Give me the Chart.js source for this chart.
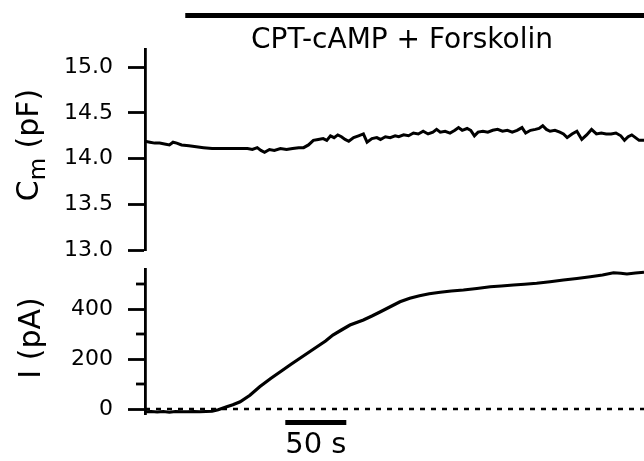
<!DOCTYPE html>
<html>
<head>
<meta charset="utf-8">
<script src="https://cdn.jsdelivr.net/npm/chart.js@4/dist/chart.umd.min.js"></script>
<style>
  html, body { margin: 0; padding: 0; background: #fff; }
  #wrap { position: relative; width: 644px; height: 461px; overflow: hidden; }
  canvas { position: absolute; left: 0; }
</style>
</head>
<body>
<div id="wrap">
  <canvas id="top" width="644" height="260" style="top:0"></canvas>
  <canvas id="bottom" width="644" height="201" style="top:260px"></canvas>
</div>
<script>
// ---------- data ----------
const cmTime = [0,4,8,12,16,20,23,26,30,36,42,48,55,62,70,78,84,88,92,95,98,102,106,111,116,121,126,130,134,138,142,146,149,152,155,158,161,164,167,171,175,179,182,186,190,193,197,201,205,208,212,216,220,224,228,232,236,239,242,246,250,254,257,260,264,267,270,273,277,281,285,289,293,297,301,305,309,312,316,320,323,326,329,332,336,340,343,346,350,354,358,362,366,370,374,378,382,386,390,393,396,399,402,405,409];
const cmValues = [14.19,14.18,14.17,14.17,14.16,14.15,14.18,14.17,14.15,14.14,14.13,14.12,14.11,14.11,14.11,14.11,14.11,14.10,14.12,14.09,14.07,14.10,14.09,14.11,14.10,14.11,14.12,14.12,14.15,14.20,14.21,14.22,14.20,14.25,14.23,14.26,14.24,14.21,14.19,14.23,14.25,14.27,14.18,14.22,14.23,14.21,14.24,14.23,14.25,14.24,14.26,14.25,14.28,14.27,14.30,14.27,14.29,14.32,14.29,14.30,14.28,14.31,14.34,14.31,14.33,14.31,14.25,14.29,14.30,14.29,14.31,14.32,14.30,14.31,14.29,14.31,14.34,14.28,14.31,14.32,14.33,14.36,14.32,14.30,14.31,14.29,14.27,14.23,14.27,14.30,14.21,14.26,14.32,14.27,14.28,14.27,14.27,14.28,14.25,14.20,14.24,14.26,14.23,14.20,14.20];

const iTime = [0,5,10,15,20,25,30,35,40,45,50,55,60,67,72,78,86,94,103,113,120,127,134,141,148,154,161,168,179,186,193,201,209,217,225,233,242,251,261,272,283,292,302,311,321,332,343,354,365,375,384,390,395,402,409];
const iValues = [-11,-10,-12,-10,-13,-10,-11,-11,-10,-11,-10,-9,-3,9,17,29,55,89,122,156,180,203,226,249,272,296,316,336,356,372,389,409,429,443,453,461,467,472,476,482,489,492,496,499,503,509,516,522,529,536,545,543,540,544,547];

const zeroTime = [0, 409];
const zeroValues = [0, 0];

const cmTicks = [13.0, 13.5, 14.0, 14.5, 15.0];
const iTicks = [0, 200, 400];
const iMinorTicks = [100, 300, 500];

const drugLabel = 'CPT-cAMP + Forskolin';
const drugStart = 33, drugEnd = 409;
const scaleBarStart = 115, scaleBarLength = 50, scaleBarLabel = '50 s';

// ---------- style ----------
const FONT = "'DejaVu Sans', 'Liberation Sans', Arial, sans-serif";
Chart.defaults.font.family = FONT;
Chart.defaults.color = '#000';

function pts(xs, ys) { return xs.map((x, i) => ({ x: x, y: ys[i] })); }

function yAxis(min, max, ticks, fmt) {
  return {
    type: 'linear', min: min, max: max,
    afterBuildTicks: s => { s.ticks = ticks.map(v => ({ value: v })); },
    afterFit: s => { s.width = 145; s.paddingTop = 0; s.paddingBottom = 0; },
    ticks: { callback: fmt, font: { family: FONT, size: 22 }, color: '#000', padding: 15 },
    grid: { drawOnChartArea: false, drawTicks: true, tickLength: 17, tickWidth: 2.8, tickColor: '#000', color: '#000' },
    border: { display: true, color: '#000', width: 2.8 }
  };
}

function drawRotatedTitle(ctx, parts, cy, baseX) {
  ctx.save();
  let total = 0;
  parts.forEach(p => { ctx.font = p.size + 'px ' + FONT; p.w = ctx.measureText(p.text).width; total += p.w; });
  ctx.translate(baseX, cy);
  ctx.rotate(-Math.PI / 2);
  ctx.fillStyle = '#000';
  ctx.textBaseline = 'alphabetic';
  ctx.textAlign = 'left';
  let x = -total / 2;
  parts.forEach(p => {
    ctx.font = p.size + 'px ' + FONT;
    ctx.fillText(p.text, x, p.shift);
    x += p.w;
  });
  ctx.restore();
}

const topDecor = {
  id: 'topDecor',
  afterDraw(chart) {
    const ctx = chart.ctx, xs = chart.scales.x;
    const x0 = xs.getPixelForValue(drugStart), x1 = xs.getPixelForValue(drugEnd);
    ctx.save();
    ctx.fillStyle = '#000';
    ctx.fillRect(x0, 13, x1 - x0 + 2, 5);
    ctx.font = '28px ' + FONT;
    ctx.textAlign = 'center';
    ctx.textBaseline = 'alphabetic';
    ctx.fillText(drugLabel, 402, 48);
    ctx.restore();
    drawRotatedTitle(ctx, [
      { text: 'C', size: 30, shift: 0 },
      { text: 'm', size: 23, shift: 7 },
      { text: ' (pF)', size: 30, shift: 0 }
    ], 145, 38);
  }
};

const bottomDecor = {
  id: 'bottomDecor',
  afterDraw(chart) {
    const ctx = chart.ctx, xs = chart.scales.x, ys = chart.scales.y;
    const axisX = chart.chartArea.left;
    ctx.save();
    ctx.strokeStyle = '#000';
    ctx.lineWidth = 2.8;
    iMinorTicks.forEach(v => {
      const y = Math.round(ys.getPixelForValue(v));
      ctx.beginPath();
      ctx.moveTo(axisX - 9, y);
      ctx.lineTo(axisX, y);
      ctx.stroke();
    });
    const b0 = xs.getPixelForValue(scaleBarStart), b1 = xs.getPixelForValue(scaleBarStart + scaleBarLength);
    ctx.fillStyle = '#000';
    ctx.fillRect(b0, 160, b1 - b0, 5);
    ctx.font = '29px ' + FONT;
    ctx.textAlign = 'center';
    ctx.textBaseline = 'alphabetic';
    ctx.fillText(scaleBarLabel, (b0 + b1) / 2, 193);
    ctx.restore();
    drawRotatedTitle(ctx, [{ text: 'I (pA)', size: 30, shift: 0 }], 78, 40);
  }
};

new Chart(document.getElementById('top').getContext('2d'), {
  type: 'line',
  data: { datasets: [{
    data: pts(cmTime, cmValues), borderColor: '#000', borderWidth: 3,
    pointRadius: 0, tension: 0, fill: false
  }] },
  options: {
    responsive: false, animation: false,
    layout: { padding: { top: 49, bottom: 10, left: 0, right: 0 } },
    plugins: { legend: { display: false }, tooltip: { enabled: false } },
    scales: {
      x: { type: 'linear', min: 0, max: 409, display: false },
      y: yAxis(13.0, 15.2, cmTicks, v => Number(v).toFixed(1))
    }
  },
  plugins: [topDecor]
});

new Chart(document.getElementById('bottom').getContext('2d'), {
  type: 'line',
  data: { datasets: [
    { data: pts(iTime, iValues), borderColor: '#000', borderWidth: 3.2, pointRadius: 0, tension: 0, fill: false },
    { data: pts(zeroTime, zeroValues), borderColor: '#000', borderWidth: 2.6, borderDash: [5, 6], pointRadius: 0, fill: false }
  ] },
  options: {
    responsive: false, animation: false,
    layout: { padding: { top: 9, bottom: 47, left: 0, right: 0 } },
    plugins: { legend: { display: false }, tooltip: { enabled: false } },
    scales: {
      x: { type: 'linear', min: 0, max: 409, display: false },
      y: yAxis(-20, 560, iTicks, v => String(v))
    }
  },
  plugins: [bottomDecor]
});
</script>
</body>
</html>
